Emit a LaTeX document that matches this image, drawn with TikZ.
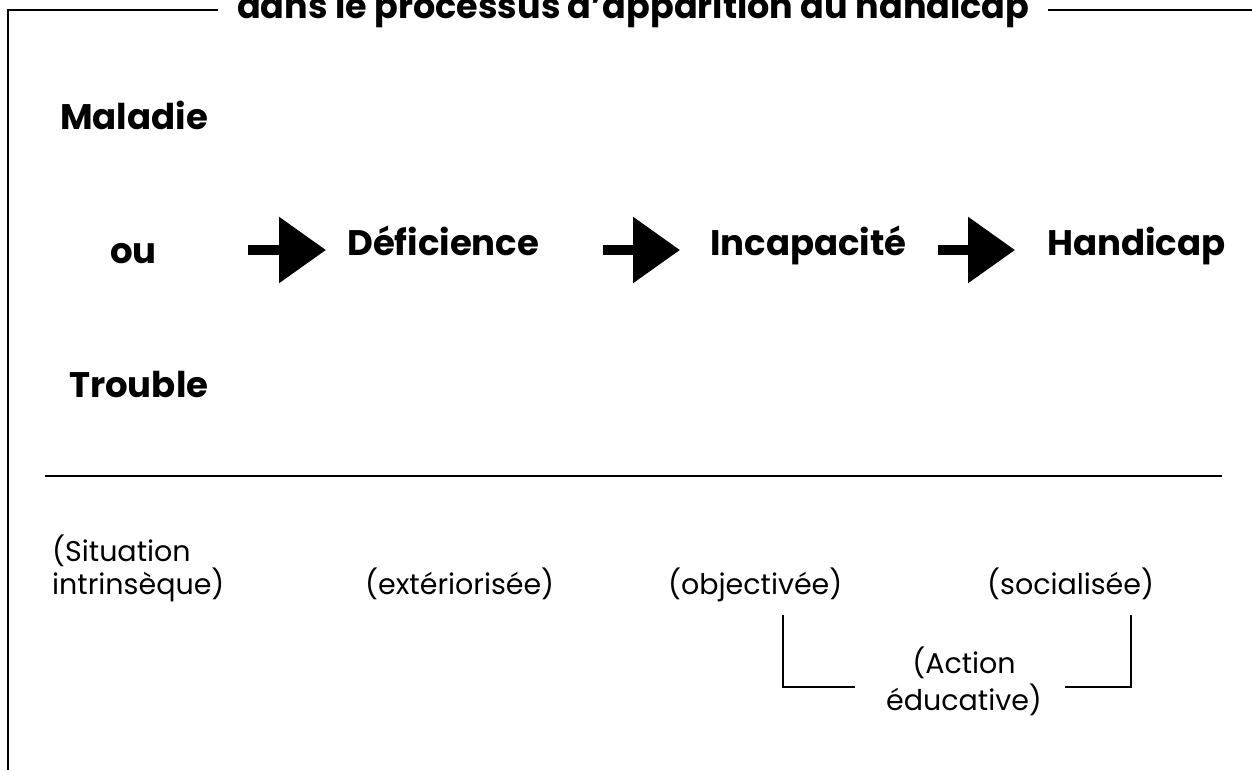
\documentclass[tikz,border=0pt]{standalone}
\usepackage{fontspec}
\setmainfont{Poppins}
\usetikzlibrary{arrows.meta}
\tikzset{
  boldlbl/.style={inner sep=0pt, anchor=base west, font=\bfseries\fontsize{35.5}{40}\selectfont},
  reglbl/.style={inner sep=0pt, anchor=base west, font=\fontsize{28.5}{32}\selectfont},
  frameline/.style={line width=1.5pt},
  thinline/.style={line width=1.2pt},
  bigarrow/.style={line width=9.5pt, -{Triangle[length=47pt 0 0, width=64pt 0 0]}}
}
\begin{document}
\begin{tikzpicture}[x=1pt,y=-1pt]
\useasboundingbox (0,0) rectangle (1252,769);
\clip (0,0) rectangle (1252,769);
% frame
\node[boldlbl, font=\bfseries\fontsize{35}{40}\selectfont] (title) at (237,18) {dans le processus d'apparition du handicap};
\coordinate (fl1) at (218,10);
\coordinate (fc) at (8,10);
\coordinate (fb) at (8,772);
\coordinate (fr1) at (1048,10);
\coordinate (fr2) at (1254,10);
\draw[frameline] (fl1) -- (fc) -- (fb);
\draw[frameline] (fr1) -- (fr2);
% left terms
\node[boldlbl] (maladie) at (60,129) {Maladie};
\node[boldlbl] (ou) at (110,263) {ou};
\node[boldlbl] (trouble) at (69,397) {Trouble};
% chain
\node[boldlbl] (def) at (347,255) {Déficience};
\node[boldlbl] (inc) at (710,255) {Incapacité};
\node[boldlbl] (hand) at (1047,255) {Handicap};
\coordinate (a1s) at (248,250); \coordinate (a1t) at (326,250);
\coordinate (a2s) at (603,250); \coordinate (a2t) at (680,250);
\coordinate (a3s) at (938,250); \coordinate (a3t) at (1015,250);
\draw[bigarrow] (a1s) -- (a1t);
\draw[bigarrow] (a2s) -- (a2t);
\draw[bigarrow] (a3s) -- (a3t);
% separator
\coordinate (sepl) at (45,476); \coordinate (sepr) at (1222,476);
\draw[thinline] (sepl) -- (sepr);
% lower labels
\node[reglbl] (sit1) at (52,561) {(Situation};
\node[reglbl] (sit2) at (52,594) {intrinsèque)};
\node[reglbl] (ext) at (365,594) {(extériorisée)};
\node[reglbl] (obj) at (668,594) {(objectivée)};
\node[reglbl] (soc) at (987,594) {(socialisée)};
\node[reglbl, anchor=base] (act1) at (964,673) {(Action};
\node[reglbl, anchor=base] (act2) at (964,710) {éducative)};
% bracket
\coordinate (bl1) at (783,615); \coordinate (bl2) at (783,687); \coordinate (bl3) at (855,687);
\coordinate (br1) at (1131,615); \coordinate (br2) at (1131,687); \coordinate (br3) at (1065,687);
\draw[thinline] (bl1) -- (bl2) -- (bl3);
\draw[thinline] (br1) -- (br2) -- (br3);
\end{tikzpicture}
\end{document}
